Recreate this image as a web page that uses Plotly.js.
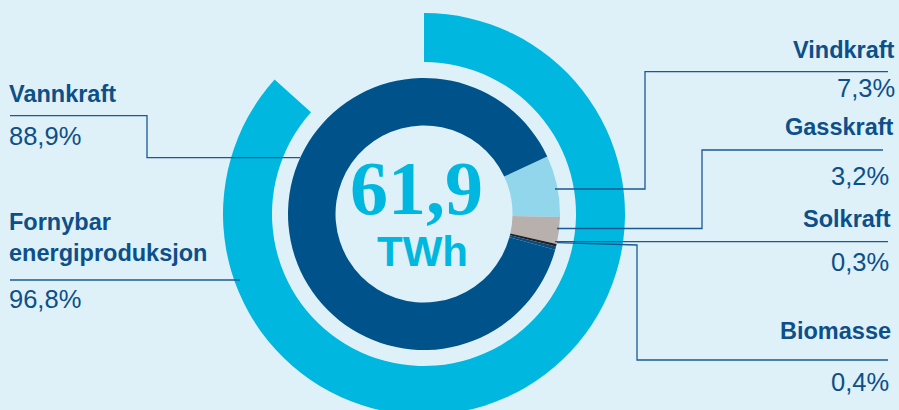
<!DOCTYPE html>
<html>
<head>
<meta charset="utf-8">
<script src="https://cdn.plot.ly/plotly-3.0.1.min.js"></script>
<style>
  html, body { margin: 0; padding: 0; overflow: hidden; background: #def1f9; }
  #chart { width: 899px; height: 420px; }
</style>
</head>
<body>
<div id="chart"></div>
<script>
// ---- data ----
const sources = ['Vindkraft', 'Gasskraft', 'Solkraft', 'Biomasse', 'Vannkraft'];
const shares  = [7.3, 3.2, 0.3, 0.4, 88.9];
const renewableLabel = ['Fornybar', 'energiproduksjon'];
const renewableShare = [96.8];
const outerGapShare = [14.9];      // visual gap of outer ring as drawn in the reference
const totalTWh = [61.9];
const unitLabel = ['TWh'];

// ---- styling ----
const sliceColors = ['#92d6ec', '#b8b0ad', '#231f20', '#0a4a7c', '#00538a'];
const ringColor = '#00b8df';
const textBlue = '#0d4f89';
const lineBlue = '#1a5a94';
const W = 899, H = 420;
const fmt = v => v.toFixed(1).replace('.', ',') + '%';
const px = x => x / W;
const py = y => 1 - y / H;

const cx = 424, cy = 214;
const rOuter = 201, rInner = 136;
function dom(r) {
  return { x: [px(cx - r), px(cx + r)], y: [py(cy + r), py(cy - r)] };
}

const outer = {
  type: 'pie', values: [renewableShare[0], outerGapShare[0]],
  labels: ['Fornybar', 'gap'],
  marker: { colors: [ringColor, 'rgba(0,0,0,0)'], line: { width: 0 } },
  hole: 152 / 201, sort: false, direction: 'clockwise', rotation: 0,
  textinfo: 'none', hoverinfo: 'skip', domain: dom(rOuter), showlegend: false
};
const inner = {
  type: 'pie', values: shares, labels: sources,
  marker: { colors: sliceColors, line: { width: 0 } },
  hole: 88.5 / 136, sort: false, direction: 'clockwise', rotation: 65,
  textinfo: 'none', hoverinfo: 'label+percent', domain: dom(rInner), showlegend: false
};

function path(d) {
  let s = '';
  d.forEach((p, i) => { s += (i ? ' L' : 'M') + px(p[0]).toFixed(5) + ',' + py(p[1]).toFixed(5); });
  return { type: 'path', xref: 'paper', yref: 'paper', path: s, line: { color: lineBlue, width: 1.3 } };
}
const shapes = [
  path([[10, 115.7], [147, 115.7], [147, 157.7], [300, 157.7]]),
  path([[10, 280], [240, 280]]),
  path([[888, 71.7], [645, 71.7], [645, 189], [555, 189]]),
  path([[883, 150], [702, 150], [702, 228.5], [557, 228.5]]),
  path([[555, 241.7], [888, 241.7]]),
  path([[557, 242.7], [637, 245], [637, 360], [888, 360]])
];

const bold = { family: 'Liberation Sans, Arial, sans-serif', size: 23.5, color: textBlue, weight: 'bold' };
const reg = { family: 'Liberation Sans, Arial, sans-serif', size: 25.5, color: textBlue };
function ann(text, x, y, anchor, font) {
  return { text: text, x: px(x), y: py(y), xref: 'paper', yref: 'paper', xanchor: anchor, yanchor: 'middle',
           showarrow: false, font: font, align: anchor };
}
const idx = n => sources.indexOf(n);
const annotations = [
  ann('<b>' + sources[idx('Vannkraft')] + '</b>', 7, 93.5, 'left', bold),
  ann(fmt(shares[idx('Vannkraft')]), 7, 136, 'left', reg),
  ann('<b>' + renewableLabel[0] + '</b>', 7, 221.5, 'left', bold),
  ann('<b>' + renewableLabel[1] + '</b>', 7, 252.5, 'left', bold),
  ann(fmt(renewableShare[0]), 7, 298.5, 'left', reg),
  ann('<b>' + sources[idx('Vindkraft')] + '</b>', 897, 50, 'right', bold),
  ann(fmt(shares[idx('Vindkraft')]), 897, 88, 'right', reg),
  ann('<b>' + sources[idx('Gasskraft')] + '</b>', 896, 127, 'right', bold),
  ann(fmt(shares[idx('Gasskraft')]), 891, 176, 'right', reg),
  ann('<b>' + sources[idx('Solkraft')] + '</b>', 893, 218.5, 'right', bold),
  ann(fmt(shares[idx('Solkraft')]), 891, 262, 'right', reg),
  ann('<b>' + sources[idx('Biomasse')] + '</b>', 893, 330.5, 'right', bold),
  ann(fmt(shares[idx('Biomasse')]), 891, 381.5, 'right', reg),
  ann('<b>' + totalTWh[0].toFixed(1).replace('.', ',') + '</b>', 416, 188, 'center',
      { family: 'Liberation Serif, Times New Roman, serif', size: 76, color: ringColor }),
  ann('<b>' + unitLabel[0] + '</b>', 422, 251.5, 'center',
      { family: 'Liberation Sans, Arial, sans-serif', size: 42, color: ringColor })
];

Plotly.newPlot('chart', [outer, inner], {
  width: W, height: H, margin: { l: 0, r: 0, t: 0, b: 0 },
  paper_bgcolor: '#def1f9', plot_bgcolor: '#def1f9', showlegend: false,
  shapes: shapes, annotations: annotations
}, { displayModeBar: false, staticPlot: true });
</script>
</body>
</html>
